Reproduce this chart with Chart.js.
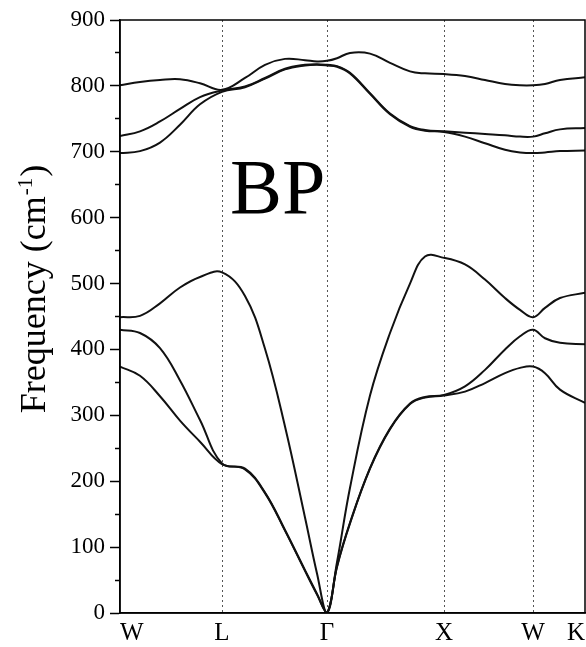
<!DOCTYPE html>
<html>
<head>
<meta charset="utf-8">
<script src="https://cdn.jsdelivr.net/npm/chart.js@4/dist/chart.umd.min.js"></script>
<style>
  body { margin: 0; background: #fff; }
  #wrap { width: 586px; height: 647px; }
</style>
</head>
<body>
<div id="wrap"><canvas id="myChart"></canvas></div>
<script>
'use strict';

// high-symmetry points along the path
const symLabels = ['W', 'L', 'Γ', 'X', 'W', 'K'];
const symK = [0, 1.02, 2.07, 3.24, 4.13, 4.65];

const kPath = [0, 0.2, 0.4, 0.6, 0.8, 1.02, 1.25, 1.45, 1.65, 1.85, 1.97, 2.07, 2.17, 2.3, 2.5, 2.7, 2.9, 3.05, 3.24, 3.45, 3.65, 3.85, 4.0, 4.13, 4.25, 4.4, 4.65];

// phonon frequencies (cm^-1), bands from lowest to highest
const band1 = [374, 360, 329, 292, 260, 226, 218, 182, 125, 64, 28, 0, 70, 136, 219, 279, 317, 327, 330, 336, 349, 364, 372, 374, 364, 339, 319];
const band2 = [430, 425, 402, 353, 293, 227, 219, 183, 126, 65, 29, 0, 71, 137, 220, 280, 318, 328, 331, 344, 369, 400, 420, 430, 417, 410, 408];
const band3 = [449, 451, 470, 494, 510, 517, 481, 401, 283, 145, 60, 0, 77, 190, 330, 425, 500, 541, 539, 529, 506, 478, 460, 449, 463, 478, 486];
const band4 = [698, 701, 714, 741, 772, 791, 798, 811, 825, 831, 832, 831, 829, 819, 788, 757, 738, 732, 730, 723, 713, 703, 699, 698, 699, 701, 702];
const band5 = [724, 731, 746, 765, 783, 793, 799, 812, 826, 832, 833, 832, 830, 820, 789, 758, 739, 733, 731, 729, 727, 725, 723, 723, 728, 734, 736];
const band6 = [801, 806, 809, 810, 804, 794, 812, 832, 841, 839, 837, 838, 842, 850, 849, 835, 822, 819, 818, 815, 809, 803, 801, 801, 803, 809, 813];

const bands = [band1, band2, band3, band4, band5, band6];

// label inside the plot (data coords)
const bpLabel = { text: 'BP', k: 1.1, freq: 607 };

const serif = "'Liberation Serif', 'Times New Roman', serif";

const frame = {
  id: 'frame',
  afterDraw(chart) {
    const { ctx, chartArea: a } = chart;
    ctx.save();
    ctx.strokeStyle = '#000';
    ctx.lineWidth = 1.5;
    ctx.strokeRect(a.left, a.top, a.right - a.left, a.bottom - a.top);
    ctx.restore();
  }
};

const bpText = {
  id: 'bpText',
  afterDatasetsDraw(chart) {
    const { ctx, scales } = chart;
    ctx.save();
    ctx.fillStyle = '#000';
    ctx.font = '78px ' + serif;
    ctx.textBaseline = 'alphabetic';
    ctx.fillText(bpLabel.text, scales.x.getPixelForValue(bpLabel.k), scales.y.getPixelForValue(bpLabel.freq));
    ctx.restore();
  }
};

// y title with a real superscript
const yTitle = {
  id: 'yTitle',
  afterDraw(chart) {
    const { ctx, chartArea: a } = chart;
    const main = 'Frequency (cm', sup = '-1', close = ')';
    ctx.save();
    ctx.translate(45, a.top + 270);
    ctx.rotate(-Math.PI / 2);
    ctx.fillStyle = '#000';
    ctx.textBaseline = 'alphabetic';
    ctx.font = '36px ' + serif;
    const w1 = ctx.measureText(main).width;
    const w3 = ctx.measureText(close).width;
    ctx.font = '21px ' + serif;
    const w2 = ctx.measureText(sup).width;
    let x0 = -(w1 + w2 + w3) / 2;
    ctx.font = '36px ' + serif;
    ctx.fillText(main, x0, 0);
    ctx.font = '21px ' + serif;
    ctx.fillText(sup, x0 + w1 + 1, -13);
    ctx.font = '36px ' + serif;
    ctx.fillText(close, x0 + w1 + w2 + 2, 0);
    ctx.restore();
  }
};

const ctx = document.getElementById('myChart').getContext('2d');

const myChart = new Chart(ctx, {
  type: 'line',
  data: {
    datasets: bands.map((b, i) => ({
      label: 'band ' + (i + 1),
      data: kPath.map((k, j) => ({ x: k, y: b[j] })),
      borderColor: '#111',
      borderWidth: 2,
      pointRadius: 0,
      tension: 0.4,
      fill: false
    }))
  },
  options: {
    responsive: true,
    maintainAspectRatio: false,
    animation: false,
    layout: { padding: { left: 0, right: 1, top: 20, bottom: 0 } },
    plugins: {
      legend: { display: false },
      tooltip: { enabled: false }
    },
    scales: {
      x: {
        type: 'linear',
        min: 0,
        max: 4.65,
        afterBuildTicks: (scale) => { scale.ticks = symK.map(v => ({ value: v })); },
        afterFit: (scale) => {
          scale.height = 34;
          scale.paddingLeft = 0;
          scale.paddingRight = 0;
        },
        ticks: {
          autoSkip: false,
          maxRotation: 0,
          align: 'inner',
          padding: 5,
          color: '#000',
          font: { family: serif, size: 25 },
          callback: (v, i) => symLabels[i]
        },
        grid: {
          drawTicks: false,
          lineWidth: 1,
          color: (c) => (c.index === 0 || c.index === symK.length - 1) ? 'rgba(0,0,0,0)' : '#555'
        },
        border: { display: true, color: '#000', width: 1.5, dash: [2, 3] }
      },
      y: {
        min: 0,
        max: 900,
        afterFit: (scale) => { scale.width = 120; },
        ticks: {
          stepSize: 50,
          padding: 5,
          color: '#000',
          font: { family: serif, size: 23 },
          callback: (v) => (v % 100 === 0 ? v : '')
        },
        grid: {
          drawOnChartArea: false,
          tickLength: 10,
          tickColor: '#000',
          tickWidth: 1.5,
          tickBorderDash: (c) => (c.tick && c.tick.value % 100 !== 0) ? [0, 5, 5, 0] : []
        },
        border: { display: true, color: '#000', width: 1.5 }
      }
    }
  },
  plugins: [frame, bpText, yTitle]
});
</script>
</body>
</html>
